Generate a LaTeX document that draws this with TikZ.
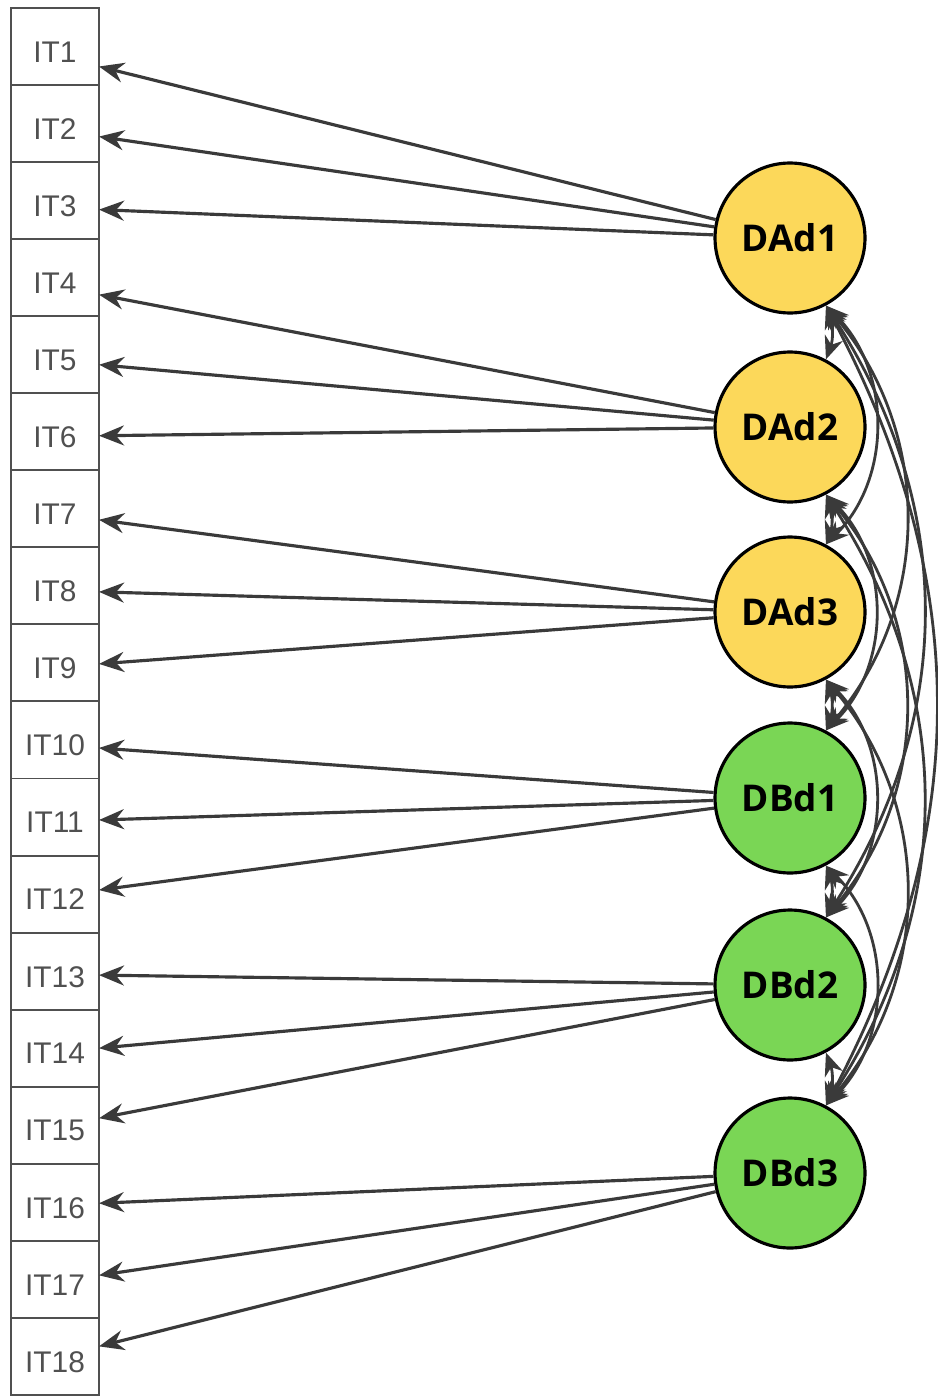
\documentclass[tikz,border=0pt]{standalone}
\usepackage{fontspec}
\setmainfont{Liberation Sans}
\newfontfamily\factfont{Open Sans}
\usetikzlibrary{positioning, arrows.meta, calc}
\definecolor{dadcolor}{RGB}{252,216,90}
\definecolor{dbdcolor}{RGB}{122,214,85}
\definecolor{linecolor}{RGB}{58,58,58}
\definecolor{itemcolor}{RGB}{80,80,80}

\begin{document}
\begin{tikzpicture}[x=0.02cm, y=-0.02cm, >=Stealth,
    itembox/.style={draw=itemcolor, line width=1.1pt, minimum width=1.76cm, minimum height=1.541cm,
        inner sep=0pt, outer sep=0pt, text=itemcolor, font=\fontsize{17}{20}\selectfont},
    factor/.style={circle, draw=black, line width=1.8pt, minimum size=3cm, inner sep=0pt,
        font=\factfont\bfseries\fontsize{21}{24}\selectfont},
    load/.style={line width=1.8pt, draw=linecolor, -{Stealth[length=0.5cm, width=0.4cm]}},
    covar/.style={line width=1.6pt, draw=linecolor,
        {Stealth[length=0.46cm, width=0.38cm]}-{Stealth[length=0.46cm, width=0.38cm]}}]

\useasboundingbox (0,0) rectangle (937,1399);

% Items (colonne de gauche)
\foreach \i in {1,...,18} {
    \node[itembox] (it\i) at (55, {46.5 + (\i-1)*77.05}) {\raisebox{-0.11cm}[\height][0pt]{IT\i}};
}

% Facteurs
\foreach \name/\lab/\col/\ypos in {dad1/DAd1/dadcolor/238, dad2/DAd2/dadcolor/427, dad3/DAd3/dadcolor/612,
        dbd1/DBd1/dbdcolor/798, dbd2/DBd2/dbdcolor/985, dbd3/DBd3/dbdcolor/1173} {
    \node[factor, fill=\col] (\name) at (790, \ypos) {\lab};
}

% Saturations
\foreach \lv/\i/\dy in {dad1/1/20, dad1/2/13, dad1/3/9, dad2/4/17, dad2/5/10, dad2/6/4,
        dad3/7/11, dad3/8/6, dad3/9/1, dbd1/10/8, dbd1/11/3, dbd1/12/-4,
        dbd2/13/4, dbd2/14/0, dbd2/15/-7, dbd3/16/1, dbd3/17/-4, dbd3/18/-10} {
    \draw[load] (\lv) -- ($(it\i.east)+(0,\dy)$);
}

% Covariances
\foreach \a/\b/\bend in {dad1/dad2/20, dad1/dad3/45, dad1/dbd1/40, dad1/dbd2/33, dad1/dbd3/28,
        dad2/dad3/20, dad2/dbd1/45, dad2/dbd2/40, dad2/dbd3/33,
        dad3/dbd1/20, dad3/dbd2/45, dad3/dbd3/40,
        dbd1/dbd2/20, dbd1/dbd3/45, dbd2/dbd3/20} {
    \draw[covar] (\a.-62) to[bend left=\bend] (\b.62);
}

\end{tikzpicture}
\end{document}
